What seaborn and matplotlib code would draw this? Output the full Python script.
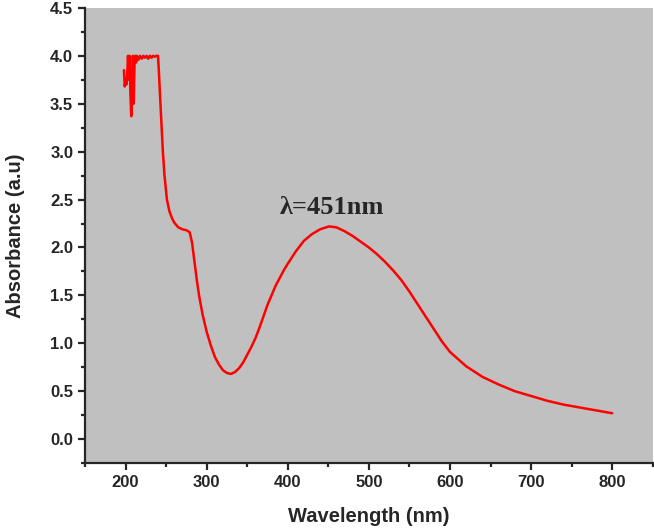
import matplotlib
matplotlib.use("Agg")
import matplotlib.pyplot as plt
import seaborn as sns
from matplotlib.ticker import MultipleLocator

# UV-Vis spectrum
wavelength = [
    198, 199, 200, 201, 202, 203, 204, 205, 206, 207, 208, 209, 210, 211,
    212, 213, 214, 216, 218, 220, 222, 224, 226, 228, 230, 232, 234, 236,
    238, 240, 241, 243, 246, 248, 251, 254, 257, 260, 265, 270, 275, 279,
    282, 285, 288, 291, 295, 300, 305, 310, 315, 320, 325, 330, 335, 340,
    345, 350, 355, 360, 365, 370, 375, 380, 385, 390, 395, 400, 410, 420,
    430, 440, 451, 460, 470, 480, 490, 500, 510, 520, 530, 540, 550, 560,
    570, 580, 590, 600, 620, 640, 660, 680, 700, 720, 740, 760, 780, 800,
]
absorbance = [
    3.85, 3.68, 3.75, 3.70, 3.80, 4.00, 3.75, 4.00, 3.60, 3.37, 3.55, 4.00, 3.50, 3.90,
    4.00, 3.93, 4.00, 3.96, 4.00, 3.97, 4.00, 3.98, 4.00, 3.97, 4.00, 3.98, 4.00, 3.99,
    4.00, 4.00, 3.85, 3.50, 3.00, 2.75, 2.50, 2.38, 2.31, 2.26, 2.21, 2.19, 2.18, 2.16,
    2.05, 1.85, 1.65, 1.48, 1.30, 1.12, 0.98, 0.86, 0.78, 0.72, 0.69, 0.68, 0.70, 0.74,
    0.80, 0.88, 0.96, 1.05, 1.16, 1.28, 1.40, 1.50, 1.60, 1.68, 1.76, 1.83, 1.96, 2.07,
    2.14, 2.19, 2.22, 2.21, 2.17, 2.12, 2.06, 2.00, 1.93, 1.85, 1.76, 1.66, 1.54, 1.41,
    1.28, 1.15, 1.02, 0.91, 0.76, 0.65, 0.57, 0.50, 0.45, 0.40, 0.36, 0.33, 0.30, 0.27,
]
peak_label = "λ=451nm"
peak_pos = (455, 2.42)

sns.set_style("ticks", {"axes.facecolor": "#c0c0c0"})
plt.rcParams["font.family"] = ["Liberation Sans", "DejaVu Sans"]

fig = plt.figure(figsize=(6.54, 5.28), dpi=100)
ax = fig.add_axes([0.13, 0.123, 0.868, 0.862])

sns.lineplot(x=wavelength, y=absorbance, color="#ff0000", linewidth=1.8, ax=ax)

ax.set_xlim(150, 850)
ax.set_ylim(-0.25, 4.5)
ax.xaxis.set_major_locator(MultipleLocator(100))
ax.xaxis.set_minor_locator(MultipleLocator(50))
ax.yaxis.set_major_locator(MultipleLocator(0.5))
ax.yaxis.set_minor_locator(MultipleLocator(0.25))
ax.yaxis.set_major_formatter(lambda v, pos: f"{v:.1f}")
ax.tick_params(which="major", length=5, width=1.6, direction="out", labelsize=12)
ax.tick_params(which="minor", length=3, width=1.6, direction="out")
for lbl in ax.get_xticklabels() + ax.get_yticklabels():
    lbl.set_fontweight("bold")

for side in ["left", "bottom"]:
    ax.spines[side].set_linewidth(1.6)
for side in ["top", "right"]:
    ax.spines[side].set_visible(False)

ax.set_xlabel("Wavelength (nm)", fontsize=14.5, fontweight="bold", labelpad=12)
ax.set_ylabel("Absorbance (a.u)", fontsize=14.5, fontweight="bold", labelpad=18)

ax.text(peak_pos[0], peak_pos[1], peak_label, ha="center", va="center",
        fontsize=19, fontweight="bold", family=["Liberation Serif", "DejaVu Serif"])

fig.savefig("out.png", dpi=100, facecolor="white")
